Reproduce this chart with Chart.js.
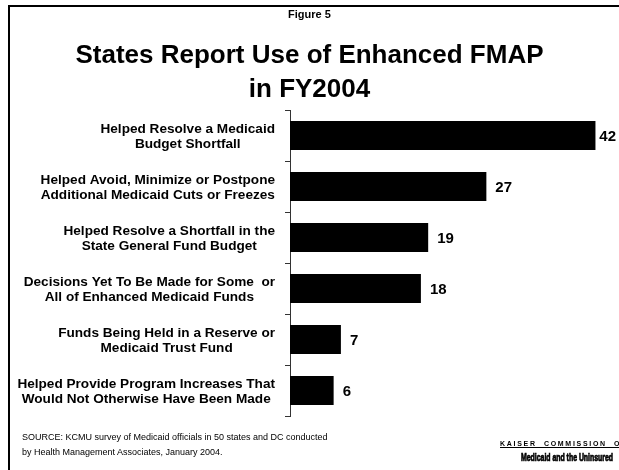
<!DOCTYPE html>
<html><head><meta charset="utf-8">
<script src="https://cdn.jsdelivr.net/npm/chart.js@4.4.0/dist/chart.umd.min.js"></script>
<style>
html,body{margin:0;padding:0;background:#fff;}
#wrap{position:relative;width:619px;height:470px;overflow:hidden;background:#fff;font-family:"Liberation Sans",Arial,sans-serif;color:#000;}
canvas{position:absolute;left:0;top:0;}
.t{position:absolute;white-space:nowrap;}
</style></head><body>
<div id="wrap">
<canvas id="c" width="619" height="470"></canvas>
<div style="position:absolute;left:8px;top:5px;width:611px;height:2px;background:#000"></div>
<div style="position:absolute;left:8px;top:5px;width:2px;height:465px;background:#000"></div>
<div class="t" style="left:0;width:619px;text-align:center;top:7px;font:bold 11px/14px 'Liberation Sans',Arial,sans-serif;">Figure 5</div>
<div class="t" style="left:0;width:619px;text-align:center;top:37px;font:bold 26px/34px 'Liberation Sans',Arial,sans-serif;">States Report Use of Enhanced FMAP<br>in FY2004</div>
<div class="t" style="left:22px;top:430px;font:9px/15px 'Liberation Sans',Arial,sans-serif;">SOURCE: KCMU survey of Medicaid officials in 50 states and DC conducted<br>by Health Management Associates, January 2004.</div>
<div class="t" style="left:500px;top:439px;font:bold 7px/10px 'Liberation Sans',Arial,sans-serif;letter-spacing:1.7px;text-decoration:underline;">KAISER&nbsp;&nbsp;COMMISSION&nbsp;&nbsp;OF</div>
<div class="t" style="left:521px;top:452px;font:bold 10px/12px 'Liberation Sans',Arial,sans-serif;-webkit-text-stroke:0.7px #000;transform:scaleX(0.69);transform-origin:0 0;">Medicaid and the Uninsured</div>
</div>
<script>
const categories = [
  ['Helped Resolve a Medicaid', 'Budget Shortfall'],
  ['Helped Avoid, Minimize or Postpone', 'Additional Medicaid Cuts or Freezes'],
  ['Helped Resolve a Shortfall in the', 'State General Fund Budget'],
  ['Decisions Yet To Be Made for Some  or', 'All of Enhanced Medicaid Funds'],
  ['Funds Being Held in a Reserve or', 'Medicaid Trust Fund'],
  ['Helped Provide Program Increases That', 'Would Not Otherwise Have Been Made']
];
const values = [42, 27, 19, 18, 7, 6];

const catLabelPlugin = {
  id: 'catLabels',
  afterDraw(chart) {
    const ctx = chart.ctx;
    const ys = chart.scales.y;
    const right = chart.chartArea.left - 15;
    ctx.save();
    ctx.font = 'bold 13.6px "Liberation Sans", Arial, sans-serif';
    ctx.fillStyle = '#000';
    ctx.textAlign = 'center';
    ctx.textBaseline = 'middle';
    chart.data.labels.forEach((lines, i) => {
      const y = ys.getPixelForValue(i) + 1;
      const w = Math.max(...lines.map(l => ctx.measureText(l).width));
      const cx = right - w / 2;
      const lh = 15;
      lines.forEach((l, j) => {
        ctx.fillText(l, cx, y + (j - (lines.length - 1) / 2) * lh);
      });
    });
    ctx.restore();
  }
};

const valueLabelPlugin = {
  id: 'valLabels',
  afterDatasetsDraw(chart) {
    const ctx = chart.ctx;
    const meta = chart.getDatasetMeta(0);
    ctx.save();
    ctx.font = 'bold 15px "Liberation Sans", Arial, sans-serif';
    ctx.fillStyle = '#000';
    ctx.textAlign = 'left';
    ctx.textBaseline = 'middle';
    meta.data.forEach((bar, i) => {
      const txt = String(chart.data.datasets[0].data[i]);
      const w = ctx.measureText(txt).width;
      let x = bar.x + 9;
      if (x + w > chart.width - 3) x = chart.width - 3 - w;
      ctx.fillText(txt, x, bar.y + 1);
    });
    ctx.restore();
  }
};

new Chart(document.getElementById('c'), {
  type: 'bar',
  data: {
    labels: categories,
    datasets: [{
      data: values,
      backgroundColor: '#000',
      borderWidth: 0,
      barPercentage: 0.57,
      categoryPercentage: 1
    }]
  },
  options: {
    indexAxis: 'y',
    responsive: false,
    animation: false,
    devicePixelRatio: 1,
    layout: { padding: { left: 285, right: 9, top: 110, bottom: 54 } },
    plugins: { legend: { display: false }, tooltip: { enabled: false } },
    scales: {
      x: { display: false, min: 0, max: 44 },
      y: {
        ticks: { display: false },
        grid: { drawOnChartArea: false, drawTicks: true, tickLength: 5, color: '#333' },
        border: { color: '#333', width: 1 }
      }
    }
  },
  plugins: [catLabelPlugin, valueLabelPlugin]
});
</script>
</body></html>
